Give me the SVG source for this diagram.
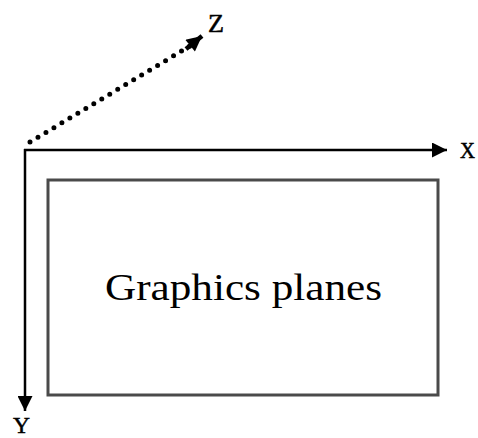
<svg xmlns="http://www.w3.org/2000/svg" width="478" height="438" viewBox="0 0 478 438">
<style>
.lbl{font-family:"Liberation Serif","Times New Roman",serif;fill:#000}
.tag{stroke:#000;stroke-width:0.5}
.ax{stroke:#000;stroke-width:2.5;fill:none}
</style>
<defs>
<marker id="ah" viewBox="0 0 10 10" refX="10" refY="5" markerWidth="7" markerHeight="6" markerUnits="strokeWidth" orient="auto">
<path d="M0,0 L10,5 L0,10 Z" fill="#000"/>
</marker>
<marker id="ahz" viewBox="0 0 10 10" refX="10" refY="5" markerWidth="4" markerHeight="3.4" markerUnits="strokeWidth" orient="auto">
<path d="M0,0 L10,5 L0,10 Z" fill="#000"/>
</marker>
</defs>
<rect width="478" height="438" fill="#fff"/>
<g id="connectors">
<path class="ax" d="M24,150 L447,150" marker-end="url(#ah)"/>
<path class="ax" d="M25,149 L25,411" marker-end="url(#ah)"/>
<path d="M30,142 L190,46" stroke="#000" stroke-width="5" stroke-linecap="round" stroke-dasharray="0 9.3" fill="none"/>
<path d="M186,49 L202,36" stroke="#000" stroke-width="4.5" fill="none" marker-end="url(#ahz)"/>
</g>
<g id="plane">
<rect x="48" y="180" width="390" height="215" fill="none" stroke="#4a4a4a" stroke-width="3"/>
<text class="lbl" x="243.5" y="300" font-size="37" text-anchor="middle" textLength="277" lengthAdjust="spacingAndGlyphs">Graphics planes</text>
</g>
<g id="labels">
<text class="lbl tag" x="467.5" y="158" font-size="24" text-anchor="middle" textLength="15" lengthAdjust="spacingAndGlyphs">X</text>
<text class="lbl tag" x="21.5" y="433" font-size="24" text-anchor="middle" textLength="17" lengthAdjust="spacingAndGlyphs">Y</text>
<text class="lbl tag" x="216" y="32" font-size="25" text-anchor="middle" textLength="16" lengthAdjust="spacingAndGlyphs">Z</text>
</g>
</svg>
